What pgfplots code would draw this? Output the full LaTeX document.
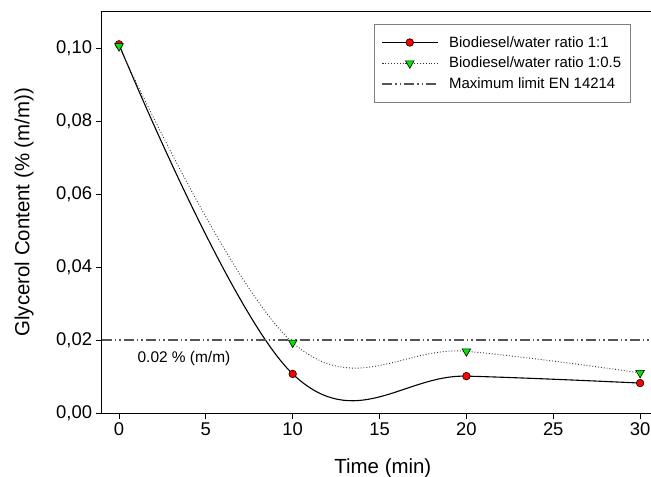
\documentclass[border=0pt]{standalone}
\usepackage{pgfplots}
\pgfplotsset{compat=1.18}
\usepackage{fontspec}
\setmainfont{Liberation Sans}
\definecolor{mygreen}{RGB}{0,230,0}
\definecolor{limgray}{RGB}{85,85,85}
\definecolor{leggray}{RGB}{128,128,128}
\begin{document}
\begin{tikzpicture}
\begin{axis}[
  scale only axis,
  width=555.84bp, height=401.5bp,
  xmin=-1, xmax=31, ymin=0, ymax=0.11,
  xtick={0,5,10,15,20,25,30},
  ytick={0,0.02,0.04,0.06,0.08,0.10},
  scaled y ticks=false,
  tick align=outside, xtick pos=bottom, ytick pos=left,
  major tick length=6bp,
  /pgf/number format/assume math mode=true,
  yticklabel style={/pgf/number format/fixed, /pgf/number format/fixed zerofill, /pgf/number format/precision=2, /pgf/number format/use comma},
  tick label style={font=\fontsize{18.5}{20}\selectfont},
  label style={font=\fontsize{20.5}{22}\selectfont},
  axis line style={line width=0.9bp},
  tick style={line width=0.9bp, black},
  xlabel={Time (min)},
  ylabel={Glycerol Content (\% (m/m))},
  xlabel style={at={(axis description cs:0.506,-0.137)}, anchor=center},
  ylabel style={at={(axis description cs:-0.1397,0.5)}, anchor=center},
  legend style={at={(axis description cs:0.49,0.969)}, anchor=north west,
    font=\fontsize{15}{16.5}\selectfont, draw=leggray, line width=0.8bp,
    inner xsep=7bp, inner ysep=10bp, row sep=4.5bp},
  legend cell align=left,
  legend image code/.code={\draw[mark repeat=2,mark phase=2,#1] plot coordinates {(0bp,0bp) (27.5bp,0bp) (55bp,0bp)}; \path (64bp,0bp);},
]
\addplot[black, line width=1.1bp, smooth, tension=0.65, mark=*, mark size=3.8bp,
  mark options={solid, fill=red, draw=black, line width=0.6bp}]
  coordinates {(0,0.101) (10,0.0107) (20,0.0101) (30,0.0082)};
\addlegendentry{Biodiesel/water ratio 1:1}
\addplot[black!80, line width=0.9bp, dotted, smooth, tension=0.65, mark=triangle*, mark size=5bp,
  mark options={solid, rotate=180, fill=mygreen, draw=black, line width=0.6bp}]
  coordinates {(0,0.1005) (10,0.0193) (20,0.0169) (30,0.011)};
\addlegendentry{Biodiesel/water ratio 1:0.5}
\addplot[limgray, line width=1.8bp, dash pattern=on 10bp off 3bp on 1.5bp off 3bp on 1.5bp off 3bp]
  coordinates {(-1,0.02) (31,0.02)};
\addlegendentry{Maximum limit EN 14214}
\node[font=\fontsize{15.5}{17}\selectfont] at (axis cs:3.74,0.0148) {0.02 \% (m/m)};
\end{axis}
\pgfresetboundingbox
\path[use as bounding box] ([shift={(-101.63bp,-64bp)}]current axis.south west) rectangle ([shift={(549.37bp,413bp)}]current axis.south west);
\end{tikzpicture}
\end{document}
